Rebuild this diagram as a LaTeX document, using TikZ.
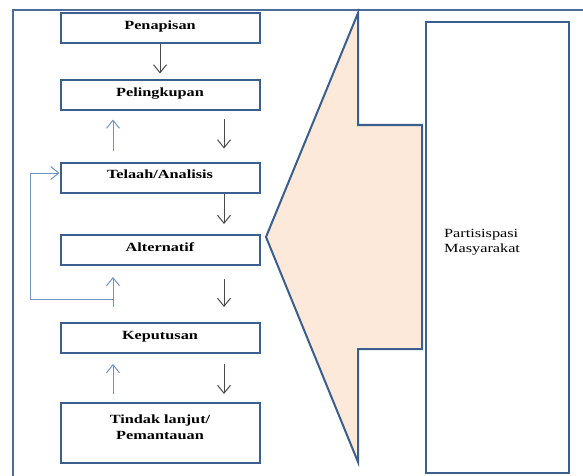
\documentclass[tikz,border=0pt]{standalone}
\usepackage{fontspec}
\setmainfont{Liberation Serif}[FakeStretch=1.3]
\usetikzlibrary{arrows.meta}
\definecolor{boxblue}{HTML}{3B5F8C}
\definecolor{frameblue}{HTML}{4A6D9B}
\definecolor{lightblue}{HTML}{6F93C4}
\definecolor{peach}{HTML}{FDE9D9}
\definecolor{arrgray}{HTML}{4A4A4A}
\begin{document}
\begin{tikzpicture}[x=1pt,y=-1pt,
  stepbox/.style={draw=boxblue, line width=2pt, minimum width=199pt, minimum height=30pt,
    inner sep=0pt, font=\fontsize{12.5}{14}\selectfont\bfseries, text height=8.5pt, text depth=6pt},
  flowarrow/.style={draw=arrgray, line width=1pt, -{Straight Barb[length=8pt,width=13pt]}},
  backarrow/.style={draw=lightblue, line width=1pt, -{Straight Barb[length=8pt,width=13pt]}},
  bigbox/.style={draw=boxblue, line width=2pt, minimum width=143pt, minimum height=451pt, inner sep=0pt},
]
\useasboundingbox (0,0) rectangle (583,476);
\draw[frameblue, line width=2pt] (13,476) -- (13,10) -- (583,10);

\node[stepbox] (pen) at (160,28) {Penapisan};
\node[stepbox] (pel) at (160,95.5) {Pelingkupan};
\node[stepbox] (tel) at (160,177.5) {Telaah/Analisis};
\node[stepbox] (alt) at (160,250) {Alternatif};
\node[stepbox] (kep) at (160,338) {Keputusan};
\node[stepbox, minimum height=60pt, align=center, font=\fontsize{12.5}{16}\selectfont\bfseries,
  text height=24.5pt, text depth=12.5pt] (tin) at (160,433) {Tindak lanjut/\\Pemantauan};

\draw[draw=boxblue, fill=peach, line width=2pt, line join=miter]
  (266,237) -- (358,13) -- (358,125) -- (422,125) -- (422,349) -- (358,349) -- (358,462) -- cycle;

\node[bigbox] (masy) at (497.5,247.5) {};
\node[anchor=north west, inner sep=0pt, align=left, font=\fontsize{12.5}{15.5}\selectfont]
  (ptext) at (444,229) {Partisispasi\\Masyarakat};

\coordinate (cR) at (224,0);
\coordinate (cL) at (113,0);
\coordinate (lx) at (30,0);

\draw[flowarrow, shorten >=6pt] (pen.south) -- (pel.north);
\draw[flowarrow, shorten <=8pt, shorten >=13pt] (pel.south -| cR) -- (tel.north -| cR);
\draw[backarrow, shorten <=11pt, shorten >=8pt] (tel.north -| cL) -- (pel.south -| cL);
\draw[flowarrow, shorten >=10pt] (tel.south -| cR) -- (alt.north -| cR);
\draw[flowarrow, shorten <=13pt, shorten >=15pt] (alt.south -| cR) -- (kep.north -| cR);
\draw[backarrow, shorten <=15pt, shorten >=11pt] (kep.north -| cL) -- (alt.south -| cL);
\coordinate (lj) at (113,299);
\draw[backarrow] (lj) -- (lj -| lx) |- ([yshift=4.5pt]tel.west);
\draw[flowarrow, shorten <=10pt, shorten >=8pt] (kep.south -| cR) -- (tin.north -| cR);
\draw[backarrow, shorten <=8pt, shorten >=10pt] (tin.north -| cL) -- (kep.south -| cL);
\end{tikzpicture}
\end{document}
